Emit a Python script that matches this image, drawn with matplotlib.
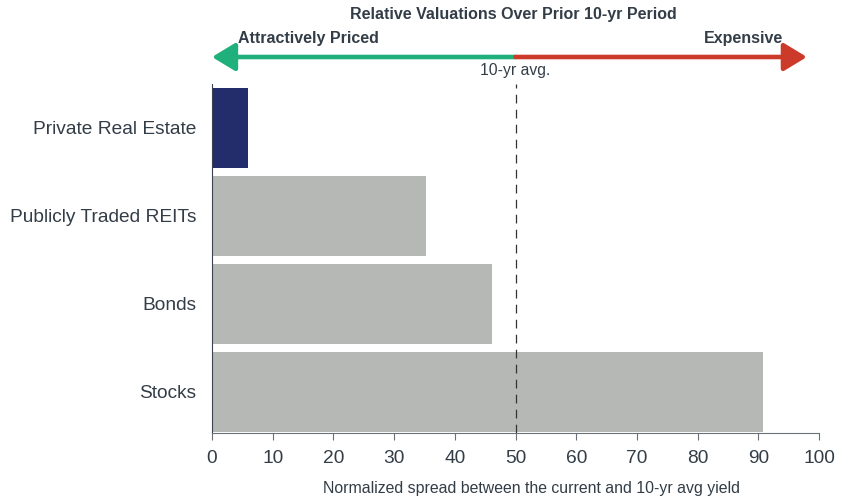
import matplotlib.pyplot as plt
import matplotlib.transforms as mtransforms

categories = ['Private Real Estate', 'Publicly Traded REITs', 'Bonds', 'Stocks']
values = [6.0, 35.2, 46.1, 90.8]
bar_colors = ['#232d6b', '#b5b8b4', '#b5b8b4', '#b5b8b4']
avg_line = 50
arrow_left = 0
arrow_right = 98

plt.rcParams['font.family'] = ['Liberation Sans', 'DejaVu Sans']
txt = '#333d47'

fig = plt.figure(figsize=(8.46, 4.97), dpi=100)
ax = fig.add_axes([0.2506, 0.1288, 0.7175, 0.7022])

ax.barh(range(len(categories)), values, height=0.91, color=bar_colors)
ax.set_ylim(3.466, -0.5)
ax.set_xlim(0, 100)
ax.set_yticks(range(len(categories)))
ax.set_yticklabels(categories, fontsize=13.8, color=txt)
ax.set_xticks(range(0, 101, 10))
ax.tick_params(axis='x', labelsize=13.8, colors='#6b7178', labelcolor=txt, length=5, direction='out', pad=7)
ax.tick_params(axis='y', length=0, pad=11)
for s in ['top', 'right']:
    ax.spines[s].set_visible(False)
ax.spines['left'].set_color('#3b4550')
ax.spines['bottom'].set_color('#6b7178')
ax.set_xlabel('Normalized spread between the current and 10-yr avg yield', fontsize=11.4, color=txt)
ax.xaxis.set_label_coords(0.526, -0.137)

ax.axvline(avg_line, color='#333333', lw=0.9, ls=(0, (7, 5)), zorder=3)

trans = mtransforms.blended_transform_factory(ax.transData, fig.transFigure)
ya = 1 - 57 / 497
style = '-|>,head_length=1.4,head_width=0.85'
ax.annotate('', xy=(arrow_left, ya), xytext=(avg_line, ya), xycoords=trans, textcoords=trans,
            arrowprops=dict(arrowstyle=style, color='#1fb07b', lw=3.3,
                            shrinkA=0, shrinkB=0), annotation_clip=False)
ax.annotate('', xy=(arrow_right, ya), xytext=(avg_line, ya), xycoords=trans, textcoords=trans,
            arrowprops=dict(arrowstyle=style, color='#cc3a2a', lw=3.3,
                            shrinkA=0, shrinkB=0), annotation_clip=False)

fig.text(513 / 846, 1 - 14 / 497, 'Relative Valuations Over Prior 10-yr Period', ha='center', va='center',
         fontsize=11.5, fontweight='bold', color=txt)
fig.text(238 / 846, 1 - 38 / 497, 'Attractively Priced', ha='left', va='center', fontsize=11.5,
         fontweight='bold', color=txt)
fig.text(783 / 846, 1 - 38 / 497, 'Expensive', ha='right', va='center', fontsize=11.5,
         fontweight='bold', color=txt)
ax.text(avg_line, 1 - 71 / 497, '10-yr avg.', transform=trans, ha='center', va='center',
        fontsize=11.3, color=txt)

fig.savefig('out.png', dpi=100)
